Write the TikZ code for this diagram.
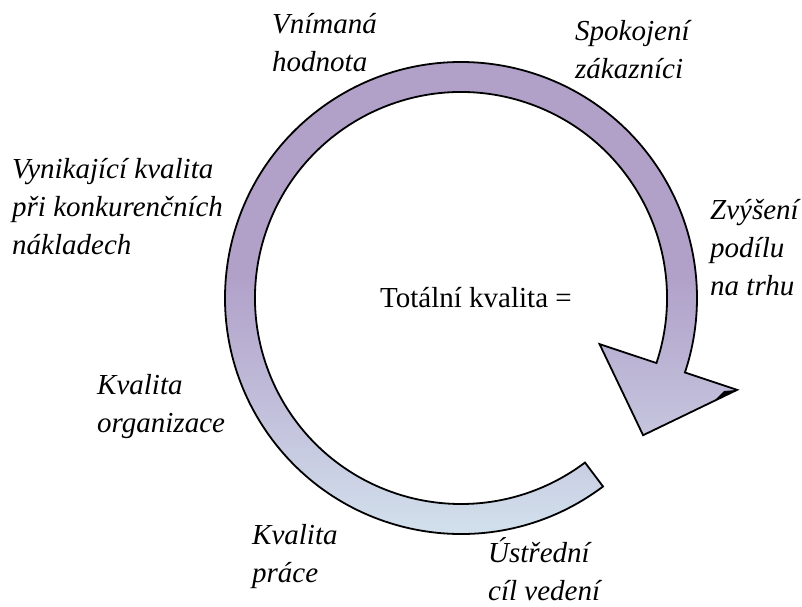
\documentclass[tikz,border=0pt]{standalone}
\usepackage{fontspec}
\setmainfont{Liberation Serif}
\definecolor{ringhigh}{RGB}{177,161,201}
\definecolor{ringmid}{RGB}{193,190,218}
\definecolor{ringlow}{RGB}{214,233,241}
\pgfdeclareverticalshading{ringshade}{100bp}{color(0bp)=(ringlow); color(25bp)=(ringlow); color(40bp)=(ringmid); color(52bp)=(ringhigh); color(75bp)=(ringhigh); color(100bp)=(ringhigh)}
\begin{document}
\begin{tikzpicture}[x=1pt, y=-1pt,
    note/.style={anchor=base west, align=left, inner sep=0pt, font=\fontsize{29}{38}\selectfont\itshape}]
        \useasboundingbox (0,0) rectangle (802,606);

        % the ring arrow
        \begin{scope}[shift={(461,298)}]
          \shadedraw [shading=ringshade, line width=1.8pt, line join=miter]
            (53:236) arc [start angle=53, end angle=378.4, radius=236]
            -- (378.4:291) -- (397:228) -- (378.4:146) -- (378.4:206)
            arc [start angle=378.4, end angle=53, radius=206] -- cycle;
        \end{scope}
        \fill (737,390) -- (724,391) -- (713,402) -- cycle;

        \node (total) [anchor=base west, inner sep=0pt, font=\fontsize{29}{38}\selectfont] at (380,307) {Totální kvalita =};

        % base of a multi-line note is its last line
        \node (value) [note] at (272,71) {Vnímaná\\hodnota};
        \node (satisfied) [note] at (575,78) {Spokojení\\zákazníci};
        \node (share) [note] at (710,295) {Zvýšení\\podílu\\na trhu};
        \node (superior) [note] at (12,254) {Vynikající kvalita\\při konkurenčních\\nákladech};
        \node (organization) [note] at (97,432) {Kvalita\\organizace};
        \node (work) [note] at (252,582) {Kvalita\\práce};
        \node (goal) [note] at (488,600) {Ústřední\\cíl vedení};
      \end{tikzpicture}
\end{document}
